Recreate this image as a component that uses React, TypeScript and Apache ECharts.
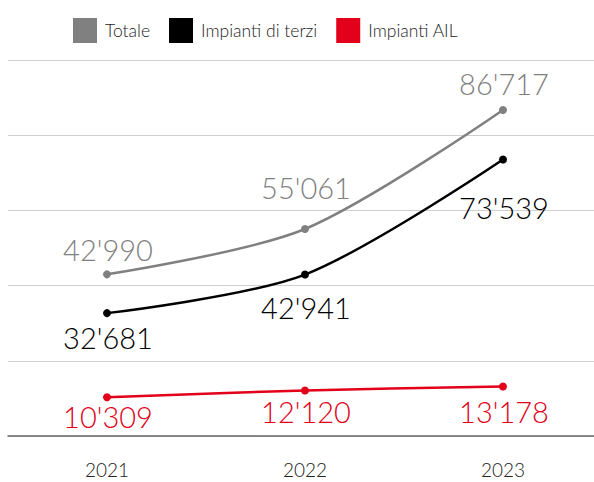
import React, { useEffect, useRef } from "react";
import * as echarts from "echarts";

const years = ["2021", "2022", "2023"];
const totale = [42990, 55061, 86717];
const terzi = [32681, 42941, 73539];
const ail = [10309, 12120, 13178];

// vertical offset of each value label from its point (px, + is downward)
const totaleLabelDy = [-25, -41, -26];
const terziLabelDy = [24, 33, 48];
const ailLabelDy = [19, 21, 25];

const FONT = "Lato";

const fmt = (v: number) => {
  const s = String(Math.round(v));
  return s.replace(/\B(?=(\d{3})+(?!\d))/g, "'");
};

export default function App() {
  const ref = useRef<HTMLDivElement>(null);
  useEffect(() => {
    if (!ref.current) return;
    const chart = echarts.init(ref.current, null, { renderer: "svg" });
    const mkSeries = (name: string, data: number[], color: string, dys: number[]) => ({
      name,
      type: "line",
      data: data.map((v, i) => ({
        value: v,
        label: { offset: [1, dys[i]] },
      })),
      smooth: 0.3,
      symbol: "circle",
      symbolSize: 8,
      itemStyle: { color },
      lineStyle: { color, width: 2.5 },
      label: {
        show: true,
        position: "inside",
        formatter: (p: any) => fmt(p.value),
        color,
        fontSize: 29,
        fontFamily: FONT,
        fontWeight: 300,
      },
    });
    chart.setOption({
      animation: false,
      textStyle: { fontFamily: FONT },
      legend: {
        top: 13,
        left: 68,
        itemWidth: 24,
        itemHeight: 25,
        itemGap: 19,
        icon: "rect",
        itemStyle: { borderWidth: 0 },
        textStyle: {
          fontSize: 17.5,
          fontFamily: FONT,
          fontWeight: 300,
          color: "#222",
          padding: [0, 0, 0, 3],
        },
        data: [
          { name: "Totale", icon: "rect" },
          { name: "Impianti di terzi", icon: "rect" },
          { name: "Impianti AIL", icon: "rect" },
        ],
      },
      grid: { left: 8, right: 0, top: 60, bottom: 46, containLabel: false },
      xAxis: {
        type: "category",
        data: years,
        boundaryGap: true,
        axisLine: { lineStyle: { color: "#666", width: 1.5 } },
        axisTick: { show: false },
        axisLabel: { fontSize: 19, color: "#222", fontFamily: FONT, fontWeight: 300, margin: 24 },
      },
      yAxis: {
        type: "value",
        min: 0,
        max: 100000,
        interval: 20000,
        axisLabel: { show: false },
        axisLine: { show: false },
        axisTick: { show: false },
        splitLine: { lineStyle: { color: "#d0d0d0", width: 1.2 } },
      },
      series: [
        mkSeries("Totale", totale, "#808080", totaleLabelDy),
        mkSeries("Impianti di terzi", terzi, "#000000", terziLabelDy),
        mkSeries("Impianti AIL", ail, "#e2001a", ailLabelDy),
      ],
    });
    return () => chart.dispose();
  }, []);
  return (
    <div
      ref={ref}
      style={{ position: "fixed", left: 0, top: 0, width: 602, height: 482, background: "#fff" }}
    />
  );
}
